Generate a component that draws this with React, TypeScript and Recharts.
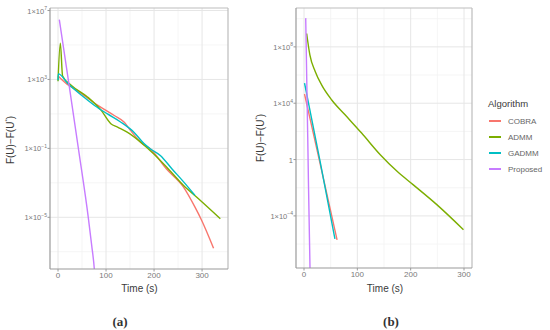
import React from "react";
import { LineChart, Line, XAxis, YAxis, ReferenceLine } from "recharts";

const algorithms = ["COBRA", "ADMM", "GADMM", "Proposed"];
const colors = ["#F8766D", "#7CAE00", "#00BFC4", "#C77CFF"];

// panel (a)
const cobraA = [
  { t: 0, v: 1.6e3 }, { t: 14, v: 6.9e2 }, { t: 49, v: 1.5e2 }, { t: 83, v: 31 },
  { t: 117, v: 8.1 }, { t: 138, v: 3.3 }, { t: 151, v: 1.1 }, { t: 172, v: 0.23 },
  { t: 192, v: 0.095 }, { t: 226, v: 6.3e-3 }, { t: 261, v: 5.8e-4 }, { t: 285, v: 4.0e-5 },
  { t: 299, v: 6.8e-6 }, { t: 324, v: 1.6e-7 },
];
const admmA = [
  { t: 0, v: 7.9e2 }, { t: 4.8, v: 1.26e5 }, { t: 9.5, v: 1.6e3 }, { t: 28, v: 4.5e2 },
  { t: 62, v: 93 }, { t: 90, v: 16 }, { t: 110, v: 2.7 }, { t: 124, v: 1.7 },
  { t: 144, v: 0.87 }, { t: 172, v: 0.23 }, { t: 199, v: 0.049 }, { t: 226, v: 8.3e-3 },
  { t: 261, v: 7.2e-4 }, { t: 296, v: 9.8e-5 }, { t: 338, v: 8.3e-6 },
];
const gadmmA = [
  { t: 0, v: 8.9e2 }, { t: 0.6, v: 2.1e3 }, { t: 21, v: 5.6e2 }, { t: 49, v: 1.2e2 },
  { t: 76, v: 31 }, { t: 103, v: 10 }, { t: 131, v: 3.3 }, { t: 158, v: 0.87 },
  { t: 179, v: 0.19 }, { t: 192, v: 0.095 }, { t: 213, v: 0.039 }, { t: 237, v: 6.6e-3 },
  { t: 262, v: 1.1e-3 }, { t: 285, v: 1.9e-4 },
];
const proposedA = [
  { t: 2.7, v: 3.0e6 }, { t: 21.3, v: 1.0e3 }, { t: 43, v: 7.6e-2 }, { t: 63, v: 1e-5 },
  { t: 70, v: 2.5e-7 }, { t: 75.6, v: 1e-8 }, { t: 78, v: 1e-9 },
];

// panel (b)
const cobraB = [{ t: 1, v: 4.5e4 }, { t: 30, v: 0.55 }, { t: 62, v: 2.0e-6 }];
const admmB = [
  { t: 5, v: 8.9e8 }, { t: 11, v: 2.7e7 }, { t: 21, v: 1.8e6 }, { t: 33, v: 2.0e5 },
  { t: 52, v: 1.7e4 }, { t: 77, v: 1.5e3 }, { t: 108, v: 76 }, { t: 143, v: 2.2 },
  { t: 175, v: 0.14 }, { t: 205, v: 1.6e-2 }, { t: 249, v: 6.3e-4 }, { t: 299, v: 1.05e-5 },
];
const gadmmB = [{ t: 1, v: 2.7e5 }, { t: 30, v: 0.8 }, { t: 58, v: 2.3e-6 }];
const proposedB = [{ t: 3.2, v: 1.1e10 }, { t: 7, v: 40 }, { t: 11.3, v: 1.6e-8 }, { t: 12, v: 3e-9 }];

const xTicks = [0, 100, 200, 300];
const xMinor = [50, 150, 250];
const yTicksA = [1e7, 1e3, 1e-1, 1e-5];
const yMinorA = [1e5, 1e1, 1e-3, 1e-7];
const yTicksB = [1e8, 1e4, 1, 1e-4];
const yMinorB = [1e10, 1e6, 1e2, 1e-2, 1e-6];

const font = "'Liberation Sans', Arial, sans-serif";

const LogTick = (props: any) => {
  const { x, y, payload } = props;
  const e = Math.round(Math.log10(payload.value));
  return (
    <text x={x} y={y} dy={3} textAnchor="end" fontSize={7.5} fill="#7a7a7a" fontFamily={font}>
      {e === 0 ? "1" : (
        <>
          1×10
          <tspan dy={-3.5} fontSize={5}>{String(e).replace("-", "−")}</tspan>
        </>
      )}
    </text>
  );
};

interface PanelProps {
  series: { t: number; v: number }[][];
  xDomain: [number, number];
  yDomain: [number, number];
  yTicks: number[];
  yMinor: number[];
  margin: { top: number; right: number; left: number; bottom: number };
  yWidth: number;
}

const Panel = ({ series, xDomain, yDomain, yTicks, yMinor, margin, yWidth }: PanelProps) => (
  <LineChart width={240} height={300} margin={margin}>
    <XAxis
      type="number"
      dataKey="t"
      domain={xDomain}
      ticks={xTicks}
      allowDataOverflow
      height={20}
      tickSize={2.5}
      tickMargin={1}
      axisLine={{ stroke: "#9a9a9a", strokeWidth: 1.2 }}
      tickLine={{ stroke: "#9a9a9a" }}
      tick={{ fontSize: 8, fill: "#7a7a7a", fontFamily: font }}
    />
    <YAxis
      type="number"
      dataKey="v"
      scale="log"
      domain={yDomain}
      ticks={yTicks}
      allowDataOverflow
      width={yWidth}
      tickSize={2.5}
      tickMargin={0.5}
      axisLine={{ stroke: "#9a9a9a", strokeWidth: 1.2 }}
      tickLine={{ stroke: "#9a9a9a" }}
      tick={<LogTick />}
    />
    {xMinor.map((v) => (
      <ReferenceLine key={"xm" + v} x={v} stroke="#f2f2f2" strokeWidth={0.8} />
    ))}
    {yMinor.map((v) => (
      <ReferenceLine key={"ym" + v} y={v} stroke="#f2f2f2" strokeWidth={0.8} />
    ))}
    {xTicks.map((v) => (
      <ReferenceLine key={"x" + v} x={v} stroke="#e6e6e6" strokeWidth={1} />
    ))}
    {yTicks.map((v) => (
      <ReferenceLine key={"y" + v} y={v} stroke="#e6e6e6" strokeWidth={1} />
    ))}
    <ReferenceLine x={xDomain[1]} stroke="#bdbdbd" strokeWidth={1.2} ifOverflow="visible" />
    <ReferenceLine y={yDomain[1]} stroke="#bdbdbd" strokeWidth={1.2} ifOverflow="visible" />
    {series.map((d, i) => (
      <Line
        key={algorithms[i]}
        data={d}
        dataKey="v"
        name={algorithms[i]}
        stroke={colors[i]}
        strokeWidth={1.4}
        dot={false}
        type="monotone"
        isAnimationActive={false}
      />
    ))}
  </LineChart>
);

const abs = (x: number, y: number): React.CSSProperties => ({
  position: "absolute",
  left: x,
  top: y,
  transform: "translate(-50%, -50%)",
  whiteSpace: "nowrap",
});

const YTitle = ({ x, y }: { x: number; y: number }) => (
  <div style={{ ...abs(x, y), transform: "translate(-50%, -50%) rotate(-90deg)", fontSize: 10, color: "#3a3a3a", fontFamily: font }}>
    F(U)−F(U<sup style={{ fontSize: 6 }}>*</sup>)
  </div>
);

export default function App() {
  return (
    <div style={{ position: "absolute", left: 0, top: 0, width: 550, height: 330, background: "#fff", overflow: "hidden" }}>
      <div style={{ position: "absolute", left: 0, top: 0 }}>
        <Panel
          series={[cobraA, admmA, gadmmA, proposedA]}
          xDomain={[-16.7, 354]}
          yDomain={[1e-8, 1.4e7]}
          yTicks={yTicksA}
          yMinor={yMinorA}
          margin={{ top: 8, right: 12, left: 8, bottom: 11 }}
          yWidth={42}
        />
      </div>
      <div style={{ position: "absolute", left: 250, top: 0 }}>
        <Panel
          series={[cobraB, admmB, gadmmB, proposedB]}
          xDomain={[-15, 315]}
          yDomain={[2e-8, 5.75e10]}
          yTicks={yTicksB}
          yMinor={yMinorB}
          margin={{ top: 8, right: 18, left: 6, bottom: 12 }}
          yWidth={40}
        />
      </div>
      <YTitle x={10} y={140} />
      <YTitle x={260} y={138} />
      <div style={{ ...abs(139.5, 288), fontSize: 10, color: "#3a3a3a", fontFamily: font }}>Time (s)</div>
      <div style={{ ...abs(385, 288), fontSize: 10, color: "#3a3a3a", fontFamily: font }}>Time (s)</div>
      <div style={{ position: "absolute", left: 488, top: 98, fontSize: 9.5, color: "#3a3a3a", fontFamily: font }}>Algorithm</div>
      {algorithms.map((a, i) => (
        <div key={a} style={{ position: "absolute", left: 489, top: 116 + i * 16, height: 10, display: "flex", alignItems: "center" }}>
          <div style={{ width: 12, height: 1.5, background: colors[i] }} />
          <span style={{ marginLeft: 7, fontSize: 8, color: "#666", fontFamily: font }}>{a}</span>
        </div>
      ))}
      <div style={{ ...abs(120, 322), fontSize: 13, fontWeight: "bold", fontFamily: "'Liberation Serif', serif", color: "#333" }}>(a)</div>
      <div style={{ ...abs(391, 322), fontSize: 13, fontWeight: "bold", fontFamily: "'Liberation Serif', serif", color: "#333" }}>(b)</div>
    </div>
  );
}
